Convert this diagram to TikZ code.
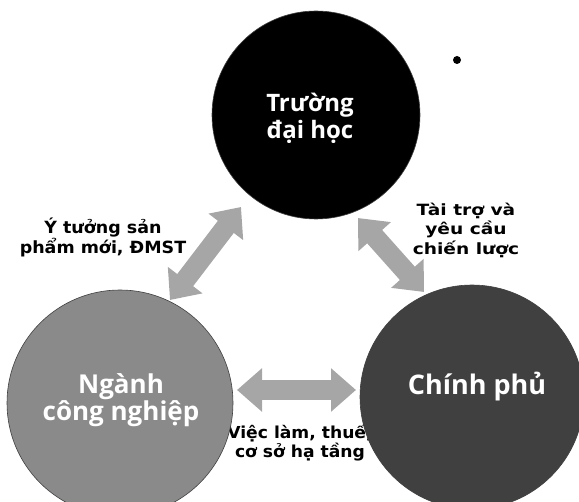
\documentclass[tikz,border=0pt]{standalone}
\usepackage{fontspec}
\newfontfamily\circfont{Open Sans}
\newfontfamily\labA{DejaVu Sans}[FakeStretch=1.04]
\newfontfamily\labB{DejaVu Sans}[FakeStretch=1.2]
\newfontfamily\labC{DejaVu Sans}[FakeStretch=1.04]
\usetikzlibrary{arrows.meta,calc}
\pgfdeclarelayer{bg}
\pgfsetlayers{bg,main}
\definecolor{arrowgray}{HTML}{A6A6A6}
\definecolor{midgray}{HTML}{8A8A8A}
\definecolor{darkgray}{HTML}{404040}
\begin{document}
\begin{tikzpicture}[x=1pt,y=-1pt,
  circ/.style={circle, minimum size=#1, inner sep=0pt, draw=black!75, line width=0.6pt},
  circtext/.style={font=\circfont\bfseries\fontsize{#1}{27}\selectfont, text=white, align=center, inner sep=0pt},
  lab/.style={align=center, text=black, inner sep=0pt},
  bigarrow/.style={line width=20pt, arrowgray,
    {Triangle[length=25pt,width=42pt]}-{Triangle[length=25pt,width=42pt]}}]
\useasboundingbox (0,0) rectangle (579,502);
% circles
\node[circ=208pt, fill=black] (uni) at (316,115) {};
\node[circ=226pt, fill=midgray] (ind) at (120,403) {};
\node[circ=224pt, fill=darkgray] (gov) at (472,397) {};
% circle texts
\node[circtext=24] (unit) at (310,118) {Trường\\đại học};
\node[circtext=26] (indt) at (121,400) {Ngành\\công nghiệp};
\node[circtext=27] (govt) at (477,387) {Chính phủ};
% dot
\fill[black] (457,60) circle (4pt);
\begin{pgfonlayer}{bg}
  \draw[bigarrow] ($(uni)+(-75,92)$) -- ($(ind)+(50,-103)$);
  \draw[bigarrow] ($(uni)+(42,103)$) -- ($(gov)+(-48,-105)$);
  \draw[bigarrow] ($(ind)+(117,-13)$) -- ($(gov)+(-116,-7)$);
  \node[lab, font=\labA\bfseries\fontsize{16.8}{16.5}\selectfont] (l1) at (103,237) {Ý tưởng sản\\phẩm mới, ĐMST};
  \node[lab, font=\labB\bfseries\fontsize{15.5}{19.5}\selectfont] (l2) at (466,230) {Tài trợ và\\yêu cầu\\chiến lược};
  \node[lab, font=\labC\bfseries\fontsize{16.5}{17}\selectfont] (l3) at (300,443) {Việc làm, thuế,\\cơ sở hạ tầng};
\end{pgfonlayer}
\end{tikzpicture}
\end{document}
